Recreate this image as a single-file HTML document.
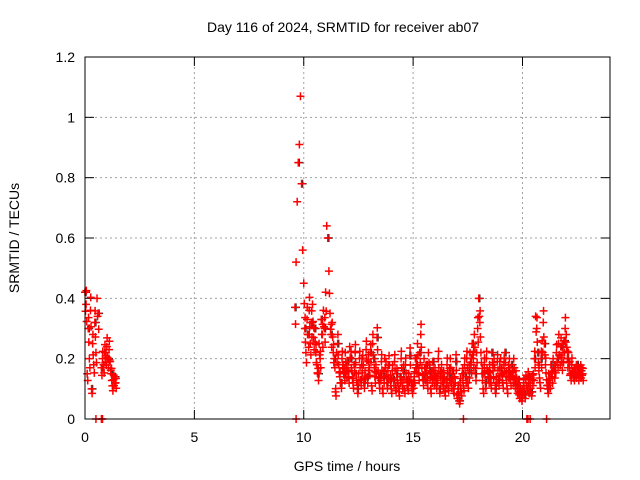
<!DOCTYPE html>
<html><head><meta charset="utf-8"><style>
body{margin:0;background:#fff}
svg{display:block;font-family:"Liberation Sans",sans-serif}
</style></head><body>
<svg id="c" width="640" height="480">
<text x="343" y="32" text-anchor="middle" font-size="14">Day 116 of 2024, SRMTID for receiver ab07</text>
<text x="347" y="471" text-anchor="middle" font-size="14">GPS time / hours</text>
<text transform="translate(19,238) rotate(-90)" text-anchor="middle" font-size="14">SRMTID / TECUs</text>
<g id="grid"></g><g id="pts"></g>
<rect x="85" y="57" width="525" height="362" fill="none" stroke="#000"/>
</svg>
<script>
const xTicks=[0,5,10,15,20];
const yTicks=[0,0.2,0.4,0.6,0.8,1,1.2];
const yTickLabels=["0","0.2","0.4","0.6","0.8","1","1.2"];
const seg1Start=0, seg1Vals=[0.42,0.38,0.15,0.3,0.2,0.36,0.1,0.25,0.18,0.32,0.22,0.4,0.35];
const seg2Start=0.75, seg2Vals=[0.17,0.2,0.18,0.22,0.21,0.24,0.2,0.23,0.19,0.15,0.11,0.13,0.14,0.12];
const seg3Start=9.6, seg3Vals=[0.37,0.52,0.72,0.85,0.91,1.07,0.78,0.56,
0.45,0.3,0.22,0.33,0.28,0.36,0.25,0.32,0.38,0.27,
0.3,0.22,0.18,0.15,0.25,0.2,0.33,0.28,0.36,0.3,
0.42,0.64,0.6,0.49,0.35,0.28,0.32,0.22,0.2,0.09,
0.22,0.25,0.18,0.14,0.12,0.2,0.18,0.15,0.22,0.16,
0.19,0.14,0.24,0.2,0.16,0.12,0.18,0.22,0.15,0.1,
0.15,0.2,0.13,0.18,0.21,0.12,0.16,0.23,0.14,0.19,
0.17,0.22,0.11,0.25,0.2,0.14,0.18,0.27,0.16,0.12,
0.15,0.19,0.1,0.14,0.2,0.17,0.12,0.16,0.21,0.13,
0.1,0.16,0.13,0.19,0.11,0.15,0.12,0.09,0.14,0.2,
0.12,0.16,0.1,0.18,0.13,0.11,0.15,0.21,0.14,0.1,
0.12,0.14,0.2,0.18,0.25,0.15,0.22,0.28,0.17,0.13,
0.2,0.15,0.18,0.12,0.22,0.16,0.1,0.14,0.19,0.13,
0.17,0.12,0.15,0.2,0.1,0.14,0.18,0.12,0.16,0.09,
0.13,0.18,0.11,0.15,0.2,0.12,0.16,0.1,0.14,0.19,
0.08,0.1,0.06,0.12,0.09,0.15,0.11,0.18,0.14,0.2,
0.12,0.16,0.22,0.18,0.25,0.2,0.28,0.15,0.22,0.3,
0.4,0.32,0.22,0.15,0.1,0.18,0.12,0.2,0.16,0.14,
0.18,0.12,0.22,0.16,0.2,0.1,0.14,0.19,0.13,0.17,
0.2,0.15,0.12,0.18,0.22,0.14,0.1,0.16,0.2,0.13,
0.18,0.14,0.2,0.12,0.16,0.1,0.13,0.08,0.11,0.07,
0.1,0.12,0.08,0.13,0.11,0.14,0.1,0.12,0.09,0.13,
0.15,0.2,0.34,0.3,0.22,0.16,0.12,0.2,0.26,0.32,
0.25,0.18,0.13,0.1,0.15,0.12,0.18,0.14,0.2,0.16,
0.18,0.22,0.2,0.25,0.21,0.24,0.19,0.22,0.26,0.3,
0.28,0.2,0.22,0.17,0.15,0.18,0.16,0.15,0.17,0.16,
0.18,0.15,0.17,0.16,0.17,0.15];
const step=0.05;
const zeroTimes=[0.5,0.75,0.8,9.65,17.3,20.2,20.25,20.35,21.1];
const NS="http://www.w3.org/2000/svg";
const X=t=>85+t*(525/24), Y=v=>419-v*(362/1.2);
const grid=document.getElementById('grid'), pts=document.getElementById('pts');
function mk(tag,attrs,parent){const e=document.createElementNS(NS,tag);for(const k in attrs)e.setAttribute(k,attrs[k]);parent.appendChild(e);return e;}
xTicks.forEach(t=>{const x=X(t);
 if(t>0){const g=mk('line',{x1:x,x2:x,y1:57,y2:419,stroke:'#a0a0a0','stroke-dasharray':'2,3'},grid);
 
 }
 mk('line',{x1:x,x2:x,y1:419,y2:410,stroke:'#000'},grid);
 mk('line',{x1:x,x2:x,y1:57,y2:66,stroke:'#000'},grid);
 const l=mk('text',{x:x,y:442,'text-anchor':'middle','font-size':14},grid);l.textContent=t;
 
 });
yTicks.forEach((v,i)=>{const y=Y(v);
 if(v>0&&v<1.2){const g=mk('line',{x1:85,x2:610,y1:y,y2:y,stroke:'#a0a0a0','stroke-dasharray':'2,3'},grid);
 
 }
 mk('line',{x1:85,x2:94,y1:y,y2:y,stroke:'#000'},grid);
 mk('line',{x1:601,x2:610,y1:y,y2:y,stroke:'#000'},grid);
 const l=mk('text',{x:75,y:y+5,'text-anchor':'end','font-size':14},grid);l.textContent=yTickLabels[i];
 
 });
function plus(t,v,col,dx){const x=X(t)+dx,y=Y(v);
 const p=mk('path',{d:`M${x-4},${y}h8M${x},${y-4}v8`,stroke:col,'stroke-width':1.5,fill:'none'},pts);
 
 }
[[seg1Start,seg1Vals],[seg2Start,seg2Vals],[seg3Start,seg3Vals]].forEach(([s,vals])=>{
 vals.forEach((v,i)=>{if(i%3==0)plus(s+i*step,v,'#333',1);});
 vals.forEach((v,i)=>plus(s+i*step,v,'#ff0000',0));
 vals.forEach((v,i)=>{if(v<0.5)plus(s+i*step+0.025,v*0.85,'#ff0000',0);});
 vals.forEach((v,i)=>{if(i%2==1&&v<0.4)plus(s+i*step+0.012,v*1.12,'#ff0000',0);});
});
zeroTimes.forEach(t=>plus(t,0,'#ff0000',0));
</script>
</body></html>
